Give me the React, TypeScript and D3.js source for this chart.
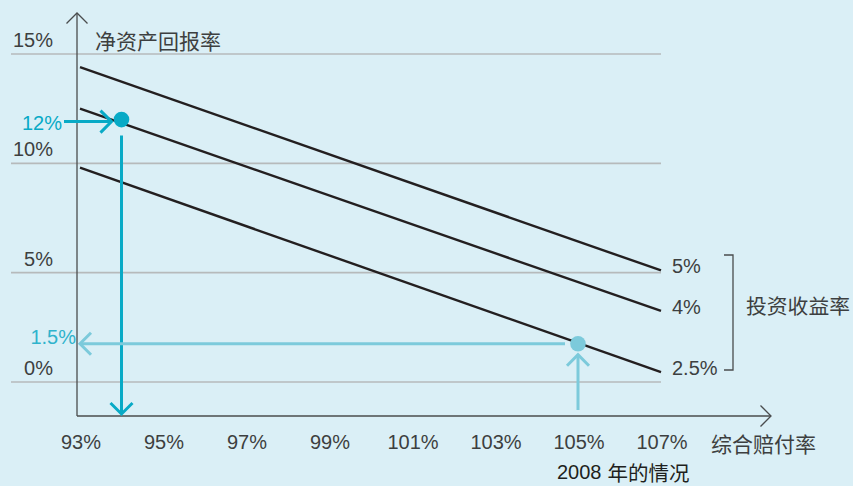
import React from 'react';
import * as d3 from 'd3';

// combined ratio ticks (%)
const xTicks = [93, 95, 97, 99, 101, 103, 105, 107];
// ROE gridlines (%)
const yTicks = [0, 5, 10, 15];

// investment yield lines: ROE at 93% and at 107% combined ratio
const yieldLabels = ['5%', '4%', '2.5%'];
const roeAt93 = [14.4, 12.5, 9.8];
const roeAt107 = [5.1, 3.25, 0.45];

// highlighted cases
const caseX = [94, 105];
const caseY = [12, 1.75];
const caseLabels = ['12%', '1.5%'];
const caseColors = ['#08aac6', '#7ccadb'];

const W = 853;
const H = 486;
const font = '"Liberation Sans", "Noto Sans CJK SC", sans-serif';
const cjk = '"Noto Sans CJK SC", sans-serif';
const textColor = '#3d3f40';

export default function App() {
  const x = d3.scaleLinear().domain([93, 107]).range([80, 661]);
  const y = d3.scaleLinear().domain([0, 15]).range([382, 54]);
  const axisX = 77;
  const axisY = 416;

  const line = d3
    .line<[number, number]>()
    .x((d) => x(d[0]))
    .y((d) => y(d[1]));

  const chevron = (tx: number, ty: number, dir: string, s = 11) => {
    if (dir === 'right') return `M${tx - s},${ty - s}L${tx},${ty}L${tx - s},${ty + s}`;
    if (dir === 'left') return `M${tx + s},${ty - s}L${tx},${ty}L${tx + s},${ty + s}`;
    if (dir === 'up') return `M${tx - s},${ty + s}L${tx},${ty}L${tx + s},${ty + s}`;
    return `M${tx - s},${ty - s}L${tx},${ty}L${tx + s},${ty - s}`;
  };

  const p0 = { cx: x(caseX[0]), cy: y(caseY[0]) };
  const p1 = { cx: x(caseX[1]), cy: y(caseY[1]) };

  return (
    <svg
      width={W}
      height={H}
      style={{ position: 'absolute', left: 0, top: 0, display: 'block' }}
      fontFamily={font}
    >
      <rect width={W} height={H} fill="#daeff6" />

      {/* gridlines */}
      {yTicks.map((t) => (
        <line key={t} x1={11} x2={661} y1={y(t)} y2={y(t)} stroke="#b6babb" strokeWidth={1.6} />
      ))}
      {yTicks.map((t) => (
        <text key={'l' + t} x={53} y={y(t) - 7} textAnchor="end" fontSize={20} fill={textColor}>
          {t}%
        </text>
      ))}

      {/* axes */}
      <line x1={axisX} x2={axisX} y1={13} y2={axisY} stroke="#4a4c4d" strokeWidth={1.3} />
      <line x1={axisX} x2={771} y1={axisY} y2={axisY} stroke="#4a4c4d" strokeWidth={1.3} />
      <path d={chevron(axisX, 13, 'up', 10.5)} fill="none" stroke="#4a4c4d" strokeWidth={1.3} />
      <path d={chevron(771, axisY, 'right', 10.5)} fill="none" stroke="#4a4c4d" strokeWidth={1.3} />

      <text x={95} y={40} dominantBaseline="central" fontFamily={cjk} fontSize={21} fill={textColor}>
        净资产回报率
      </text>

      {xTicks.map((t) => (
        <text key={t} x={x(t) + 1} y={449} textAnchor="middle" fontSize={20} fill={textColor}>
          {t}%
        </text>
      ))}
      <text x={711} y={443} dominantBaseline="central" fontFamily={cjk} fontSize={21} fill={textColor}>
        综合赔付率
      </text>
      <text x={557} y={472} dominantBaseline="central" fontSize={20} fill="#1e1f20">
        <tspan fontFamily={font}>2008</tspan>
        <tspan fontFamily={cjk} fontSize={20.5} dx={6}>年的情况</tspan>
      </text>

      {/* yield lines */}
      {yieldLabels.map((lab, i) => (
        <g key={lab}>
          <path
            d={line([
              [93, roeAt93[i]],
              [107, roeAt107[i]],
            ]) || ''}
            fill="none"
            stroke="#231f20"
            strokeWidth={2.4}
          />
          <text x={672} y={y(roeAt107[i]) + 3} fontSize={20} fill={textColor}>
            {lab}
          </text>
        </g>
      ))}

      {/* bracket */}
      <path d="M724,255H733V370H724" fill="none" stroke="#4a4c4d" strokeWidth={1.3} />
      <text x={746} y={305} dominantBaseline="central" fontFamily={cjk} fontSize={20.8} fill={textColor}>
        投资收益率
      </text>

      {/* case 1: 12% */}
      <g stroke={caseColors[0]} strokeWidth={3} fill="none">
        <line x1={64} x2={p0.cx - 10} y1={p0.cy + 2} y2={p0.cy + 2} />
        <path d={chevron(p0.cx - 10, p0.cy + 2, 'right', 11)} />
        <line x1={p0.cx} x2={p0.cx} y1={p0.cy + 16} y2={414} />
        <path d={chevron(p0.cx, 414, 'down', 11)} />
      </g>
      <circle cx={p0.cx} cy={p0.cy} r={7.8} fill={caseColors[0]} />
      <text x={62} y={130} textAnchor="end" fontSize={20} fill={caseColors[0]}>
        {caseLabels[0]}
      </text>

      {/* case 2: 2008 */}
      <g stroke={caseColors[1]} strokeWidth={3} fill="none">
        <line x1={p1.cx - 13} x2={80} y1={p1.cy} y2={p1.cy} />
        <path d={chevron(80, p1.cy, 'left', 11)} />
        <line x1={p1.cx} x2={p1.cx} y1={410} y2={p1.cy + 11} />
        <path d={chevron(p1.cx, p1.cy + 11, 'up', 11)} />
      </g>
      <circle cx={p1.cx} cy={p1.cy} r={7.8} fill={caseColors[1]} />
      <text x={76} y={p1.cy} textAnchor="end" fontSize={20} fill="#2fb3cc">
        {caseLabels[1]}
      </text>
    </svg>
  );
}
